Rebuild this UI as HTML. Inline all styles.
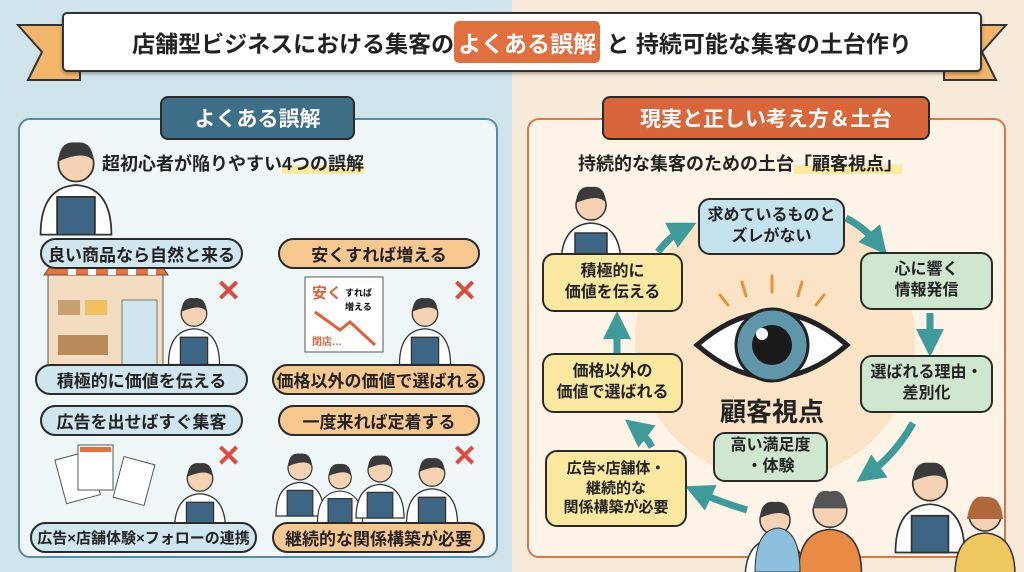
<!DOCTYPE html>
<html><head><meta charset="utf-8"><style>
*{margin:0;padding:0;box-sizing:border-box}
body{width:1024px;height:572px;overflow:hidden;position:relative;font-family:"Liberation Sans","Noto Sans CJK JP",sans-serif;font-weight:bold;color:#222}
.a{position:absolute}
.pill{position:absolute;border:2px solid #2a2a2a;border-radius:16px;display:flex;align-items:center;justify-content:center;font-size:17px;white-space:nowrap}
.bl{background:#cfe6f0}.or{background:#f8c890}
.node{position:absolute;border:2px solid #2a2a2a;border-radius:12px;display:flex;align-items:center;justify-content:center;text-align:center;font-size:16px;line-height:1.3}
.x{position:absolute;color:#e04a3a;font-size:30px;font-weight:bold;line-height:1}
</style></head><body>
<div class="a" style="left:0;top:0;width:512px;height:572px;background:#cfe4ea"></div>
<div class="a" style="left:512px;top:0;width:512px;height:572px;background:#f8ead8"></div>
<svg class="a" style="left:0;top:0" width="1024" height="572">
<polygon points="18,25 80,25 80,80 28,80 42,52" fill="#f2b56a" stroke="#333" stroke-width="2"/>
<polygon points="1006,25 944,25 944,80 996,80 982,52" fill="#f2b56a" stroke="#333" stroke-width="2"/>
</svg>
<div class="a" style="left:62px;top:12px;width:920px;height:60px;background:#fff;border:2px solid #333;border-radius:5px;box-shadow:0 2px 3px rgba(0,0,0,.3)"></div>
<div class="a" style="left:62px;top:12px;width:920px;height:60px;display:flex;align-items:center;justify-content:center;font-size:23px;white-space:nowrap">店舗型ビジネスにおける集客の<span style="background:#e07040;color:#fff;border-radius:5px;padding:4px 4px">よくある誤解</span>&nbsp;と 持続可能な集客の土台作り</div>

<div class="a" style="left:18px;top:118px;width:480px;height:440px;background:#eef6f8;border:2px solid #5a8aa0;border-radius:12px"></div>
<div class="a" style="left:160px;top:96px;width:195px;height:44px;background:#3f6e88;border:2px solid #2a2a2a;border-radius:8px;color:#fff;font-size:21px;display:flex;align-items:center;justify-content:center">よくある誤解</div>
<div class="a" style="left:102px;top:150px;font-size:18px;white-space:nowrap">超初心者が陥りやすい<span style="background:linear-gradient(transparent 55%,#fbe9a0 55%)">4つの誤解</span></div>

<div class="a" style="left:527px;top:118px;width:479px;height:440px;background:#fdf3e6;border:2px solid #d9774a;border-radius:12px"></div>
<div class="a" style="left:602px;top:96px;width:328px;height:44px;background:#d9663a;border:2px solid #2a2a2a;border-radius:8px;color:#fff;font-size:21px;display:flex;align-items:center;justify-content:center">現実と正しい考え方＆土台</div>
<div class="a" style="left:578px;top:150px;font-size:18px;white-space:nowrap">持続的な集客のための土台<span style="background:linear-gradient(transparent 55%,#fbe9a0 55%)">「顧客視点」</span></div>

<svg class="a" style="left:0;top:0" width="1024" height="572">
<defs>
<marker id="ah" markerWidth="4" markerHeight="4" refX="2" refY="2" orient="auto"><path d="M0,0 L4,2 L0,4z" fill="#3f9a9a"/></marker>
<g id="man"><path d="M-30,70 Q-30,30 0,28 Q30,30 30,70z" fill="#fff" stroke="#333" stroke-width="1.5"/><path d="M-16,70 L-16,38 L16,38 L16,70z" fill="#3f6585" stroke="#333" stroke-width="1.5"/><circle cx="0" cy="10" r="15" fill="#f6d2b4" stroke="#333" stroke-width="1.5"/><path d="M-15,8 Q-14,-10 0,-8 Q14,-10 15,8 Q8,-2 -15,8z" fill="#3a3a3a"/></g>
</defs>
<use href="#man" transform="translate(76,152) scale(1.18)"/>
<rect x="48" y="275" width="115" height="90" fill="#f3dcc0" stroke="#555"/>
<path d="M44,275 L58,255 L155,255 L168,275z" fill="#e8703a" stroke="#555"/>
<g fill="#fff"><rect x="68" y="256" width="8" height="19"/><rect x="88" y="256" width="8" height="19"/><rect x="108" y="256" width="8" height="19"/><rect x="128" y="256" width="8" height="19"/><rect x="148" y="256" width="8" height="19"/></g>
<rect x="122" y="300" width="35" height="65" fill="#cfe6ee" stroke="#777"/>
<rect x="58" y="300" width="22" height="15" fill="#c89f6f"/><rect x="85" y="300" width="22" height="15" fill="#f0c060"/>
<rect x="58" y="335" width="50" height="20" fill="#b98b5a"/>
<use href="#man" transform="translate(194,305) scale(0.85)"/>
<rect x="305" y="277" width="78" height="75" fill="#fff" stroke="#555"/>
<text x="312" y="298" font-size="15" fill="#e0603a">安く</text><text x="345" y="296" font-size="9">すれば</text><text x="345" y="310" font-size="9">増える</text>
<path d="M315,312 L340,330 L350,322 L375,345" stroke="#e0603a" stroke-width="3" fill="none"/>
<text x="312" y="345" font-size="10" fill="#e0603a">閉店…</text>
<use href="#man" transform="translate(425,305) scale(0.85)"/>
<g fill="#fff" stroke="#555"><rect x="60" y="455" width="35" height="45" transform="rotate(-15 77 477)"/><rect x="78" y="445" width="35" height="45"/><rect x="118" y="460" width="32" height="42" transform="rotate(15 134 481)"/></g>
<g fill="#e8703a"><rect x="80" y="447" width="31" height="5"/></g>
<use href="#man" transform="translate(200,470) scale(0.85)"/>
<use href="#man" transform="translate(300,460) scale(0.8)"/>
<use href="#man" transform="translate(340,470) scale(0.75)"/>
<use href="#man" transform="translate(380,462) scale(0.8)"/>
<use href="#man" transform="translate(432,465) scale(0.85)"/>
<circle cx="775" cy="340" r="140" fill="#fbe3c6"/>
<use href="#man" transform="translate(591,195) scale(1)"/>
<g stroke="#e8903a" stroke-width="3" stroke-linecap="round"><line x1="720" y1="295" x2="728" y2="305"/><line x1="742" y1="282" x2="746" y2="296"/><line x1="772" y1="276" x2="772" y2="292"/><line x1="802" y1="282" x2="798" y2="296"/><line x1="824" y1="295" x2="816" y2="305"/></g>
<path d="M697,345 Q772,280 847,345 Q772,410 697,345z" fill="#fff" stroke="#222" stroke-width="5"/>
<circle cx="772" cy="345" r="36" fill="#5f96aa" stroke="#222" stroke-width="3"/>
<circle cx="772" cy="345" r="20" fill="#1a1a1a"/><circle cx="762" cy="334" r="6" fill="#fff"/>
<g stroke="#3f9a9a" stroke-width="7" fill="none" marker-end="url(#ah)">
<path d="M658,252 Q670,236 684,229"/><path d="M846,218 Q865,228 878,244"/><path d="M930,313 L930,343"/>
<path d="M913,423 Q895,455 868,474"/><path d="M747,510 Q720,502 698,492"/><path d="M652,447 Q645,435 636,428"/><path d="M617,353 L617,325"/>
</g>
<use href="#man" transform="translate(775,510) scale(1)"/>
<g transform="translate(830,500) scale(1.05)"><path d="M-30,70 Q-30,30 0,28 Q30,30 30,70z" fill="#e98a45" stroke="#333" stroke-width="1.5"/><circle cx="0" cy="10" r="16" fill="#f6d2b4" stroke="#333" stroke-width="1.5"/><path d="M-16,8 Q-14,-12 0,-8 Q14,-12 16,8z" fill="#555"/></g>
<use href="#man" transform="translate(930,472) scale(1.15)"/>
<g transform="translate(985,505) scale(1)"><path d="M-30,70 Q-30,30 0,28 Q30,30 30,70z" fill="#f0c860" stroke="#333" stroke-width="1.5"/><circle cx="0" cy="10" r="16" fill="#f6d2b4" stroke="#333" stroke-width="1.5"/><path d="M-18,14 Q-14,-12 0,-8 Q16,-10 18,14z" fill="#b0683a"/></g>
<path d="M755,572 Q755,530 778,528 Q800,530 800,572z" fill="#8cc0dc" stroke="#333"/>
</svg>
<div class="x" style="left:216px;top:277px">✕</div><div class="x" style="left:452px;top:277px">✕</div>
<div class="x" style="left:216px;top:442px">✕</div><div class="x" style="left:452px;top:442px">✕</div>

<div class="pill bl" style="left:40px;top:238px;width:203px;height:31px">良い商品なら自然と来る</div>
<div class="pill or" style="left:278px;top:238px;width:202px;height:31px">安くすれば増える</div>
<div class="pill bl" style="left:35px;top:364px;width:213px;height:31px">積極的に価値を伝える</div>
<div class="pill or" style="left:272px;top:364px;width:213px;height:31px">価格以外の価値で選ばれる</div>
<div class="pill bl" style="left:40px;top:405px;width:203px;height:31px">広告を出せばすぐ集客</div>
<div class="pill or" style="left:278px;top:405px;width:202px;height:31px">一度来れば定着する</div>
<div class="pill bl" style="left:30px;top:522px;width:227px;height:31px;font-size:15px">広告×店舗体験×フォローの連携</div>
<div class="pill or" style="left:272px;top:522px;width:213px;height:31px">継続的な関係構築が必要</div>

<div class="node" style="left:698px;top:198px;width:147px;height:57px;background:#c5e3ef">求めているものと<br>ズレがない</div>
<div class="node" style="left:860px;top:252px;width:133px;height:58px;background:#cfe6cf">心に響く<br>情報発信</div>
<div class="node" style="left:860px;top:355px;width:133px;height:58px;background:#cfe6cf">選ばれる理由・<br>差別化</div>
<div class="node" style="left:713px;top:432px;width:115px;height:50px;background:#cfe6cf">高い満足度<br>・体験</div>
<div class="node" style="left:545px;top:450px;width:142px;height:77px;background:#fbe8a0;font-size:15px">広告×店舗体・<br>継続的な<br>関係構築が必要</div>
<div class="node" style="left:542px;top:353px;width:141px;height:60px;background:#fbe8a0">価格以外の<br>価値で選ばれる</div>
<div class="node" style="left:542px;top:253px;width:141px;height:59px;background:#fbe8a0">積極的に<br>価値を伝える</div>
<div class="a" style="left:717px;top:392px;width:110px;text-align:center;font-size:26px">顧客視点</div>
</body></html>
